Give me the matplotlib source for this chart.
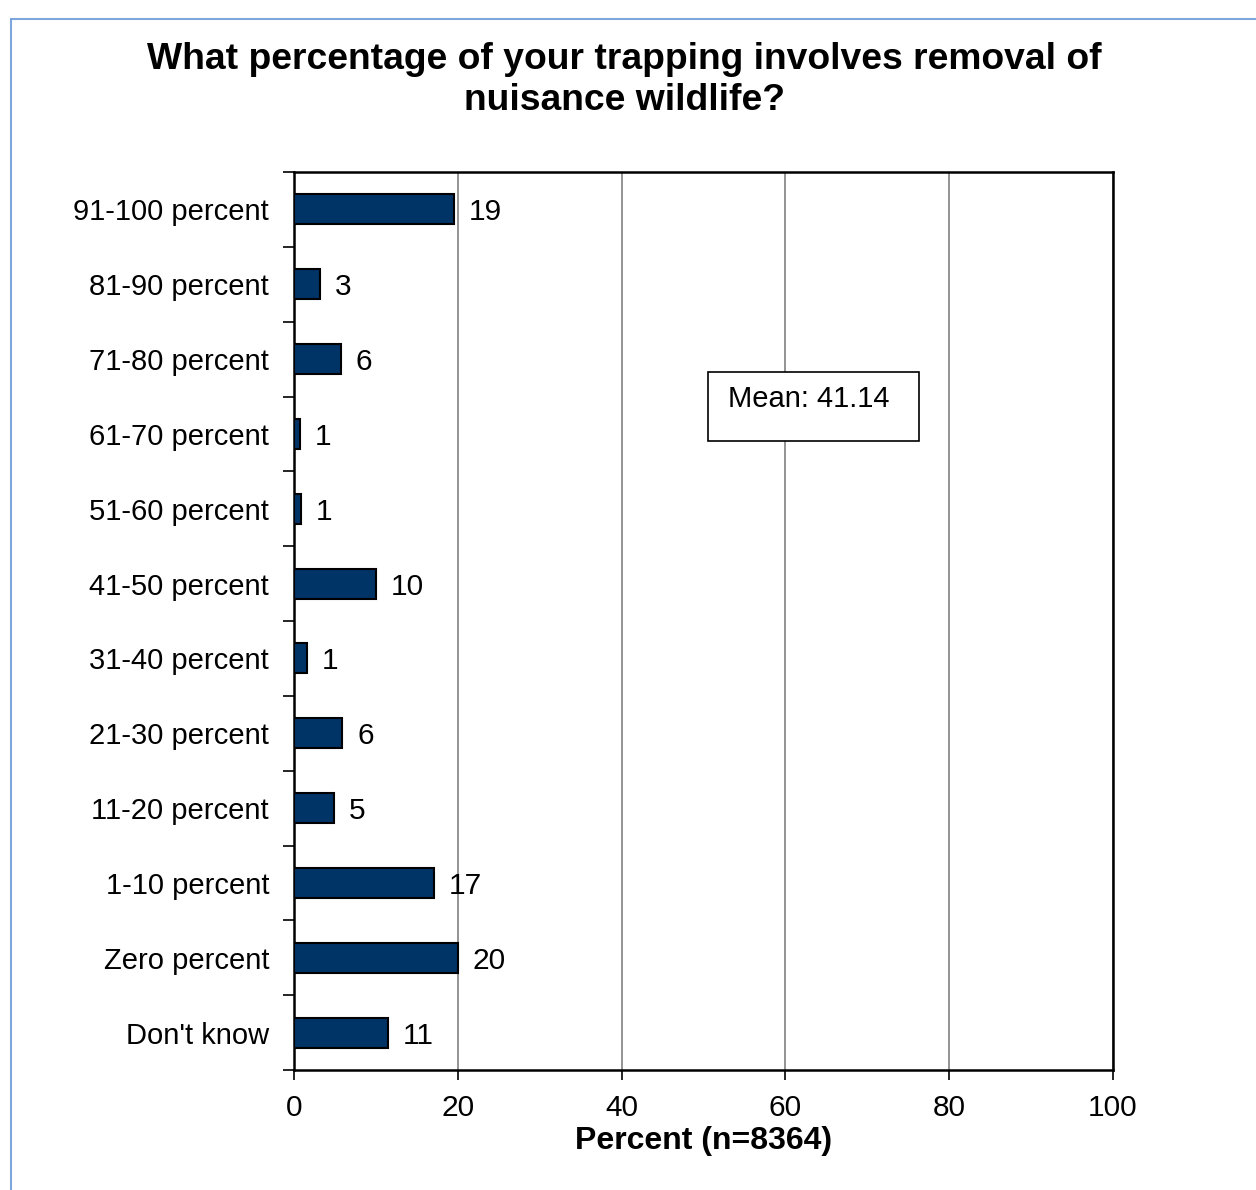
import matplotlib
matplotlib.use('Agg')
import matplotlib.pyplot as plt
from matplotlib.lines import Line2D
from matplotlib.patches import Rectangle

plt.rcParams['font.family'] = ['Liberation Sans', 'DejaVu Sans']

categories = ['91-100 percent', '81-90 percent', '71-80 percent', '61-70 percent',
              '51-60 percent', '41-50 percent', '31-40 percent', '21-30 percent',
              '11-20 percent', '1-10 percent', 'Zero percent', "Don't know"]
values = [19.5, 3.2, 5.7, 0.7, 0.9, 10.0, 1.6, 5.9, 4.9, 17.1, 20.0, 11.5]
labels = ['19', '3', '6', '1', '1', '10', '1', '6', '5', '17', '20', '11']
mean_text = 'Mean: 41.14'

W, H = 1256, 1190
fig = plt.figure(figsize=(W / 100, H / 100), dpi=100)
ax = fig.add_axes([294 / W, 1 - 1070 / H, (1113 - 294) / W, (1070 - 172) / H])

pos = list(range(len(categories)))
ax.barh(pos, values, height=0.4, color='#003366', edgecolor='black', linewidth=1.5, zorder=3)
for p, v, t in zip(pos, values, labels):
    ax.text(v + 1.8, p + 0.04, t, va='center', ha='left', fontsize=21.5)

ax.set_xlim(0, 100)
ax.set_ylim(len(categories) - 0.5, -0.5)
ax.set_xticks([0, 20, 40, 60, 80, 100])
ax.tick_params(axis='x', labelsize=21.5, length=7, width=1.2, pad=10)
ax.set_yticks(pos)
ax.set_yticklabels(categories, fontsize=21)
ax.tick_params(axis='y', length=0, pad=18)
ax.set_yticks([p + 0.5 for p in [-1] + pos], minor=True)
ax.tick_params(axis='y', which='minor', length=8, width=1.2)
ax.grid(axis='x', color='#808080', linewidth=1.2, zorder=0)
for s in ax.spines.values():
    s.set_linewidth(1.8)

ax.set_xlabel('Percent (n=8364)', fontsize=23, fontweight='bold', labelpad=3)

# mean box
fig.add_artist(Rectangle((708 / W, 1 - 441 / H), (919 - 708) / W, (441 - 372) / H,
                         transform=fig.transFigure, facecolor='white', edgecolor='black',
                         linewidth=1.2, zorder=5))
fig.text(728 / W, 1 - 399 / H, mean_text, fontsize=21, va='center', ha='left', zorder=6)

fig.text(0.497, 1 - 80 / H, 'What percentage of your trapping involves removal of\nnuisance wildlife?',
         ha='center', va='center', fontsize=26.8, fontweight='bold', linespacing=1.2)

# outer frame lines (light blue)
fig.add_artist(Line2D([10.5 / W, 10.5 / W], [0, 1 - 18.5 / H], color='#7da6de', linewidth=1.5))
fig.add_artist(Line2D([10.5 / W, 1], [1 - 18.5 / H, 1 - 18.5 / H], color='#7da6de', linewidth=1.5))

fig.savefig('out.png', dpi=100)
